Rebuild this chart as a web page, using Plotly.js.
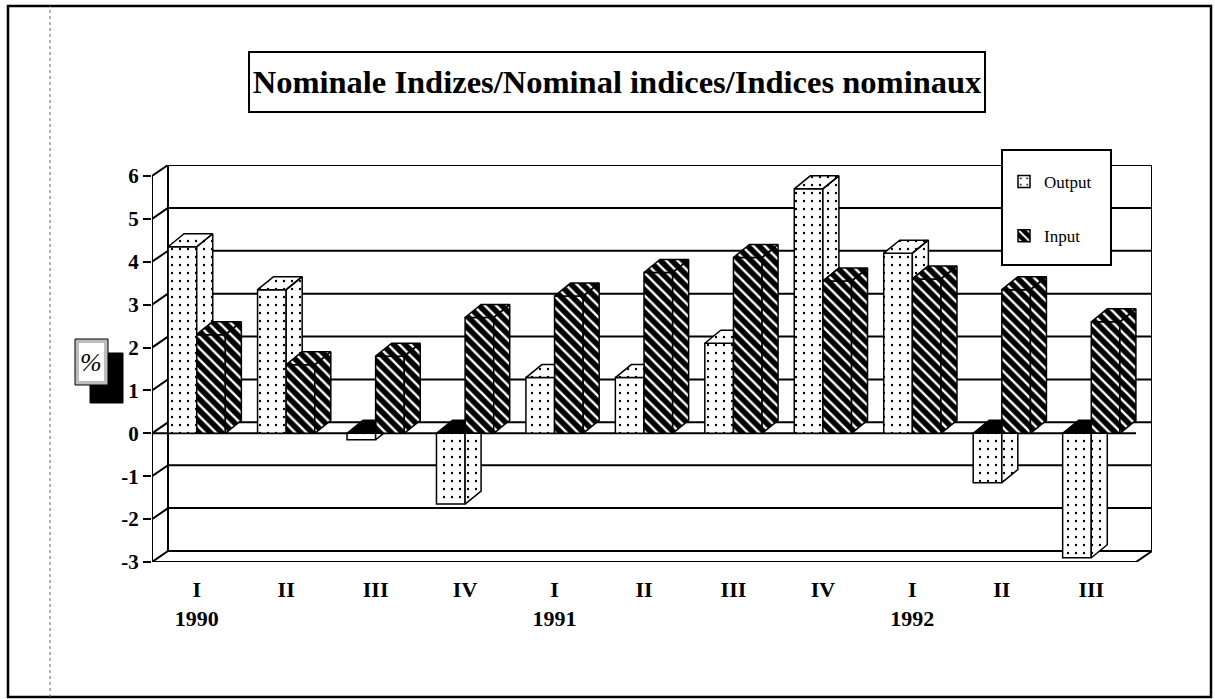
<!DOCTYPE html>
<html>
<head>
<meta charset="utf-8">
<script src="https://cdn.plot.ly/plotly-3.0.1.min.js"></script>
<style>html,body{margin:0;padding:0;background:#fff;}#chart{width:1215px;height:699px;}</style>
</head>
<body>
<div id="chart"></div>
<script>
// ---- data ----
const quarters = ['I', 'II', 'III', 'IV', 'I', 'II', 'III', 'IV', 'I', 'II', 'III'];
const years = ['1990', '', '', '', '1991', '', '', '', '1992', '', ''];
const outputValues = [4.35, 3.35, -0.15, -1.65, 1.3, 1.3, 2.1, 5.7, 4.2, -1.15, -2.9];
const inputValues = [2.3, 1.6, 1.8, 2.7, 3.2, 3.75, 4.1, 3.55, 3.6, 3.35, 2.6];
const yTickValues = [-3, -2, -1, 0, 1, 2, 3, 4, 5, 6];
const yTickLabels = ['-3', '-2', '-1', '0', '1', '2', '3', '4', '5', '6'];
const seriesNames = ['Output', 'Input'];
const titleText = 'Nominale Indizes/Nominal indices/Indices nominaux';

// ---- 3D look (style constants) ----
const W = 0.32;          // bar front width (category units)
const DX = 16 / 89.45;   // depth offset in x (category units)
const DY = 11 / 42.89;   // wall depth offset in y (value units)
const BDY = 13 / 42.89;  // bar depth offset in y
const R = DX / BDY;
const n = quarters.length;
const idx = quarters.map((_, i) => i);
const bounds = [];
for (let i = 0; i <= n; i++) bounds.push(i - 0.5);
const xLo = -0.5, xHi = n - 0.5;
const yLo = yTickValues[0], yHi = yTickValues[yTickValues.length - 1];

const serif = 'Liberation Serif, Times New Roman, serif';
const dotPattern = {shape: '.', bgcolor: 'white', fgcolor: 'black', size: 8, solidity: 0.07};
const hatchPattern = {shape: '\\', bgcolor: 'black', fgcolor: 'white', size: 8, solidity: 0.3};

function addPoly(arrX, arrY, pts) {
  pts.forEach(p => { arrX.push(p[0]); arrY.push(p[1]); });
  arrX.push(pts[0][0]); arrY.push(pts[0][1]);
  arrX.push(null); arrY.push(null);
}

const oX = [], oY = [], kX = [], kY = [], iX = [], iY = [];
idx.forEach(i => {
  const x0 = i - W, x1 = i, yo = outputValues[i], yi = inputValues[i];
  if (yo >= 0) {
    if (yi > yo) {
      const t = Math.min(yi, yo + BDY);
      addPoly(oX, oY, [[x0, yo], [x1, yo], [x1, t], [x1 + Math.max(0, yo + BDY - yi) * R, yo + BDY], [x0 + DX, yo + BDY]]);
    } else {
      addPoly(oX, oY, [[x0, yo], [x1, yo], [x1 + DX, yo + BDY], [x0 + DX, yo + BDY]]);
      addPoly(oX, oY, [[x1, yi], [x1, yo], [x1 + DX, yo + BDY], [x1 + DX, yi + BDY]]);
    }
  } else {
    addPoly(kX, kY, [[x0, 0], [x1, 0], [x1, BDY], [x0 + DX, BDY]]);
    if (yo + BDY < 0) {
      addPoly(oX, oY, [[x1, yo], [x1, 0], [x1 + DX, 0], [x1 + DX, yo + BDY]]);
    } else {
      addPoly(oX, oY, [[x1, yo], [x1, 0], [x1 - yo * R, 0]]);
    }
  }
  const a = i, b = i + W;
  addPoly(iX, iY, [[a, yi], [b, yi], [b + DX, yi + BDY], [a + DX, yi + BDY]]);
  addPoly(iX, iY, [[b, 0], [b, yi], [b + DX, yi + BDY], [b + DX, BDY]]);
});

const traces = [
  {type: 'bar', name: seriesNames[0], x: idx, y: outputValues, width: W, offset: -W,
   legendgroup: 'o', hoverinfo: 'skip',
   marker: {color: 'white', line: {color: 'black', width: 1.5}, pattern: dotPattern}},
  {type: 'bar', name: seriesNames[1], x: idx, y: inputValues, width: W, offset: 0,
   legendgroup: 'i', hoverinfo: 'skip',
   marker: {color: 'black', line: {color: 'black', width: 1.5}, pattern: hatchPattern}},
  {type: 'scatter', mode: 'lines', x: oX, y: oY, fill: 'toself', fillcolor: 'white',
   fillpattern: dotPattern, line: {color: 'black', width: 1.5}, showlegend: false, hoverinfo: 'skip'},
  {type: 'scatter', mode: 'lines', x: kX, y: kY, fill: 'toself', fillcolor: 'black',
   line: {color: 'black', width: 1.5}, showlegend: false, hoverinfo: 'skip'},
  {type: 'scatter', mode: 'lines', x: iX, y: iY, fill: 'toself', fillcolor: 'black',
   fillpattern: hatchPattern, line: {color: 'black', width: 1.5}, showlegend: false, hoverinfo: 'skip'}
];

// ---- box (walls) ----
const shapes = [];
const L = {color: 'black', width: 2};
yTickValues.forEach(v => {
  shapes.push({type: 'line', layer: 'below', xref: 'x', yref: 'y', x0: xLo + DX, x1: xHi + DX, y0: v + DY, y1: v + DY, line: L});
  shapes.push({type: 'line', layer: 'below', xref: 'x', yref: 'y', x0: xLo, x1: xLo + DX, y0: v, y1: v + DY, line: L});
});
shapes.push({type: 'line', layer: 'below', xref: 'x', yref: 'y', x0: xLo + DX, x1: xLo + DX, y0: yLo + DY, y1: yHi + DY, line: L});
shapes.push({type: 'line', layer: 'below', xref: 'x', yref: 'y', x0: xHi + DX, x1: xHi + DX, y0: yLo + DY, y1: yHi + DY, line: L});
shapes.push({type: 'line', layer: 'below', xref: 'x', yref: 'y', x0: xHi, x1: xHi + DX, y0: yLo, y1: yLo + DY, line: L});
shapes.push({type: 'line', layer: 'below', xref: 'x', yref: 'y', x0: xLo, x1: xLo, y0: yLo, y1: yHi, line: L});
shapes.push({type: 'line', layer: 'below', xref: 'x', yref: 'y', x0: xLo, x1: xHi, y0: yLo, y1: yLo, line: L});
shapes.push({type: 'line', layer: 'below', xref: 'x', yref: 'y', x0: xLo, x1: xHi, y0: 0, y1: 0, line: L});

// ---- decorations (paper coords) ----
const px = v => (v - 152) / 1000;
const py = v => (562 - v) / 397;
shapes.push({type: 'rect', xref: 'paper', yref: 'paper', x0: px(249), x1: px(985), y0: py(112), y1: py(52), line: {color: 'black', width: 2}});
shapes.push({type: 'rect', xref: 'paper', yref: 'paper', x0: px(8), x1: px(1211), y0: py(697), y1: py(6), line: {color: 'black', width: 2.5}});
shapes.push({type: 'line', xref: 'paper', yref: 'paper', x0: px(50), x1: px(50), y0: py(697), y1: py(6), line: {color: '#666', width: 1, dash: 'dot'}});
shapes.push({type: 'rect', xref: 'paper', yref: 'paper', x0: px(90), x1: px(123), y0: py(403), y1: py(353), fillcolor: 'black', line: {color: 'black', width: 1}});
shapes.push({type: 'rect', xref: 'paper', yref: 'paper', x0: px(75), x1: px(108), y0: py(385), y1: py(339), fillcolor: '#bdbdbd', line: {color: 'black', width: 1}});
shapes.push({type: 'rect', xref: 'paper', yref: 'paper', x0: px(79), x1: px(104), y0: py(381), y1: py(343), fillcolor: 'white', line: {width: 0}});
// legend frame
shapes.push({type: 'rect', layer: 'above', xref: 'paper', yref: 'paper', x0: px(1002), x1: px(1111), y0: py(265), y1: py(150), fillcolor: 'white', line: {color: 'black', width: 2}});

const axisCommon = {range: [xLo, xHi + DX], showgrid: false, zeroline: false, showline: false, fixedrange: true};

const layout = {
  width: 1215, height: 699,
  margin: {l: 152, r: 63, t: 165, b: 137},
  paper_bgcolor: 'white', plot_bgcolor: 'white',
  barmode: 'overlay', hovermode: false,
  title: {text: titleText, x: 617 / 1215, xanchor: 'center', y: 1 - 82 / 699, yanchor: 'middle',
          font: {family: serif, size: 32.5, weight: 'bold', color: 'black'}},
  font: {family: serif, color: 'black'},
  xaxis: Object.assign({}, axisCommon, {
    tickmode: 'array', tickvals: idx,
    ticktext: idx.map(i => quarters[i] + (years[i] ? '<br>' + years[i] : '')),
    ticks: '', ticklabelstandoff: 12,
    tickfont: {family: serif, size: 22, weight: 'bold', color: 'black'}}),
  xaxis2: Object.assign({}, axisCommon, {overlaying: 'x', anchor: 'y', side: 'bottom',
    tickmode: 'array', tickvals: bounds, ticks: 'outside', ticklen: 10, tickwidth: 2, tickcolor: 'black', showticklabels: false}),
  xaxis3: Object.assign({}, axisCommon, {overlaying: 'x', anchor: 'free', side: 'bottom',
    position: (0 - yLo) / (yHi + DY - yLo),
    tickmode: 'array', tickvals: bounds.slice(1), ticks: 'outside', ticklen: 8, tickwidth: 2, tickcolor: 'black', showticklabels: false}),
  yaxis: {range: [yLo, yHi + DY], tickmode: 'array', tickvals: yTickValues, ticktext: yTickLabels,
    ticks: 'outside', ticklen: 8, tickwidth: 2, tickcolor: 'black', showgrid: false, zeroline: false, showline: false,
    fixedrange: true, tickfont: {family: serif, size: 21, weight: 'bold', color: 'black'}},
  legend: {x: px(1004), y: py(164), xanchor: 'left', yanchor: 'top', bgcolor: 'rgba(0,0,0,0)',
    borderwidth: 0, traceorder: 'grouped', tracegroupgap: 29,
    font: {family: serif, size: 17, color: 'black'}},
  shapes: shapes,
  annotations: [{xref: 'paper', yref: 'paper', x: px(91), y: py(362), text: '<i>%</i>', showarrow: false,
    font: {family: serif, size: 26, color: 'black'}, xanchor: 'center', yanchor: 'middle'}]
};

Plotly.newPlot('chart', traces, layout, {displayModeBar: false, staticPlot: true});
</script>
</body>
</html>
